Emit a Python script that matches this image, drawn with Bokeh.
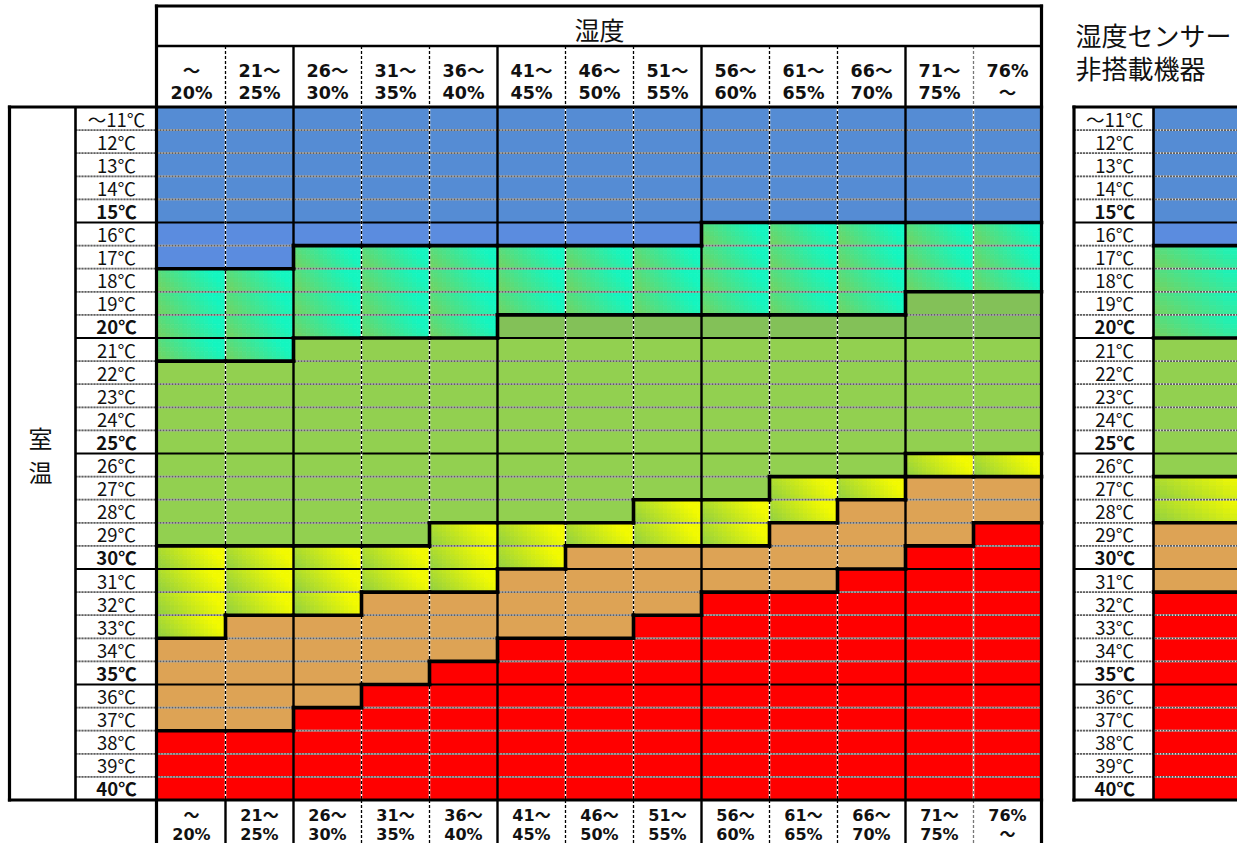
from bokeh.plotting import figure
from bokeh.models import Range1d
from bokeh.core.properties import value
from bokeh.embed import file_html
from bokeh.resources import INLINE

# ---------------- data ----------------
temps = [11, 12, 13, 14, 15, 16, 17, 18, 19, 20, 21, 22, 23, 24, 25,
         26, 27, 28, 29, 30, 31, 32, 33, 34, 35, 36, 37, 38, 39, 40]
temp_labels = ["～11℃", "12℃", "13℃", "14℃", "15℃", "16℃", "17℃", "18℃", "19℃", "20℃",
               "21℃", "22℃", "23℃", "24℃", "25℃", "26℃", "27℃", "28℃", "29℃", "30℃",
               "31℃", "32℃", "33℃", "34℃", "35℃", "36℃", "37℃", "38℃", "39℃", "40℃"]
bold_labels = ["15℃", "20℃", "25℃", "30℃", "35℃", "40℃"]
hum_line1 = ["～", "21～", "26～", "31～", "36～", "41～", "46～", "51～", "56～", "61～", "66～", "71～", "76%"]
hum_line2 = ["20%", "25%", "30%", "35%", "40%", "45%", "50%", "55%", "60%", "65%", "70%", "75%", "～"]

# last temperature of each band, per humidity column
blue_last   = [17, 17, 16, 16, 16, 16, 16, 16, 15, 15, 15, 15, 15]
cyan_last   = [21, 21, 20, 20, 20, 19, 19, 19, 19, 19, 19, 18, 18]
green_last  = [29, 29, 29, 29, 28, 28, 28, 27, 27, 26, 26, 25, 25]
yellow_last = [33, 32, 32, 31, 31, 30, 29, 29, 29, 28, 27, 26, 26]
orange_last = [37, 37, 36, 35, 34, 33, 33, 32, 31, 31, 30, 29, 28]
# devices without humidity sensor: blue, cyan, green, yellow, orange last temps
nosensor_last = [16, 20, 26, 28, 31]

title_hum = "湿度"
title_room = ["室", "温"]
title_nosensor = ["湿度センサー", "非搭載機器"]

# ---------------- styles / layout ----------------
BLUE, BLUE_L = "#558CD4", "#5B8CDF"
GREEN, GREEN_D = "#92D050", "#83C158"
ORANGE, RED = "#DDA355", "#FF0000"
CYAN_G = ((112, 212, 100), (20, 246, 192))
YEL_G = ((150, 210, 62), (242, 250, 0))

GRID_L, COL_W = 157.0, 68.0
GRID_T, ROW_H = 106.5, 23.1
NCOL, NROW = len(hum_line1), len(temps)
GRID_R = GRID_L + NCOL * COL_W
GRID_B = GRID_T + NROW * ROW_H
LAB_L = 75.0
BOX_L = 9.0
R_LAB_L, R_COL_L, R_COL_R = 1073.5, 1153.0, 1265.0
FIG_W, FIG_H = 1237, 843


def col_x(c):
    return GRID_L + c * COL_W


def row_y(r):
    return GRID_T + r * ROW_H


def band(t, lasts):
    for i, last in enumerate(lasts):
        if t <= last:
            return i
    return len(lasts)


def col_lasts(c):
    return [blue_last[c], cyan_last[c], green_last[c], yellow_last[c], orange_last[c]]


p = figure(width=FIG_W, height=FIG_H, x_range=Range1d(0, FIG_W), y_range=Range1d(FIG_H, 0),
           output_backend="svg", toolbar_location=None, x_axis_type=None, y_axis_type=None,
           min_border=0, outline_line_color=None, background_fill_color="white",
           border_fill_color="white")
p.xgrid.visible = False
p.ygrid.visible = False

solid = dict(left=[], right=[], top=[], bottom=[], color=[])
grad = dict(left=[], right=[], top=[], bottom=[], color=[])


def hexcol(rgb):
    return "#%02x%02x%02x" % tuple(int(round(v)) for v in rgb)


def add_cell(x0, x1, y0, y1, t, b):
    if b == 1 or b == 3:
        c0, c1 = CYAN_G if b == 1 else YEL_G
        nx, ny = 16, 5
        for i in range(nx):
            for j in range(ny):
                u = (i + 0.5) / nx
                v = 1 - (j + 0.5) / ny
                k = min(1.0, max(0.0, 1.0 * u + 0.35 * v - 0.08))
                rgb = [c0[m] + (c1[m] - c0[m]) * k for m in range(3)]
                grad["left"].append(x0 + (x1 - x0) * i / nx)
                grad["right"].append(x0 + (x1 - x0) * (i + 1) / nx)
                grad["top"].append(y0 + (y1 - y0) * j / ny)
                grad["bottom"].append(y0 + (y1 - y0) * (j + 1) / ny)
                grad["color"].append(hexcol(rgb))
        return
    if b == 0:
        col = BLUE_L if t >= 16 else BLUE
    elif b == 2:
        col = GREEN_D if t <= 20 else GREEN
    elif b == 4:
        col = ORANGE
    else:
        col = RED
    solid["left"].append(x0)
    solid["right"].append(x1)
    solid["top"].append(y0)
    solid["bottom"].append(y1)
    solid["color"].append(col)


bands = [[band(t, col_lasts(c)) for t in temps] for c in range(NCOL)]
for c in range(NCOL):
    for r, t in enumerate(temps):
        add_cell(col_x(c), col_x(c + 1), row_y(r), row_y(r + 1), t, bands[c][r])
ns_bands = [band(t, nosensor_last) for t in temps]
for r, t in enumerate(temps):
    add_cell(R_COL_L, R_COL_R, row_y(r), row_y(r + 1), t, ns_bands[r])

p.quad(left=solid["left"], right=solid["right"], top=solid["top"], bottom=solid["bottom"],
       fill_color=solid["color"], line_color=solid["color"], line_width=0.8)
p.quad(left=grad["left"], right=grad["right"], top=grad["top"], bottom=grad["bottom"],
       fill_color=grad["color"], line_color=grad["color"], line_width=0.8)

# ---------------- horizontal row lines ----------------
dash_h = dict(x0=[], y0=[], x1=[], y1=[])
solid_h = dict(x0=[], y0=[], x1=[], y1=[])
for r in range(1, NROW):
    y = row_y(r)
    target = solid_h if temp_labels[r - 1] in bold_labels else dash_h
    for (a, b) in ((LAB_L, GRID_R), (R_LAB_L, R_COL_R)):
        target["x0"].append(a); target["x1"].append(b)
        target["y0"].append(y); target["y1"].append(y)
p.segment(x0=dash_h["x0"], y0=dash_h["y0"], x1=dash_h["x1"], y1=dash_h["y1"],
          line_color="#d8d8d8", line_width=1.8)
p.segment(x0=dash_h["x0"], y0=dash_h["y0"], x1=dash_h["x1"], y1=dash_h["y1"],
          line_color="#5f5f5f", line_width=1.8, line_dash="2 1")
p.segment(x0=solid_h["x0"], y0=solid_h["y0"], x1=solid_h["x1"], y1=solid_h["y1"],
          line_color="black", line_width=2.2)

# ---------------- vertical column lines ----------------
HEAD_SPLIT = 45.5
FIG_BOTTOM = FIG_H
major_cols = [2, 5, 8, 11]
vs = dict(x0=[], y0=[], x1=[], y1=[])
vd = dict(x0=[], y0=[], x1=[], y1=[])
vg = dict(x0=[], y0=[], x1=[], y1=[])
for j in range(1, NCOL):
    x = col_x(j)
    tgt = vs if j in major_cols else (vg if j == NCOL - 1 else vd)
    tgt["x0"].append(x); tgt["x1"].append(x); tgt["y0"].append(HEAD_SPLIT); tgt["y1"].append(GRID_B)
    tgt = vs if (j in major_cols or j == 1) else (vg if j == NCOL - 1 else vd)
    tgt["x0"].append(x); tgt["x1"].append(x); tgt["y0"].append(GRID_B); tgt["y1"].append(FIG_BOTTOM)
for d, col in ((vd, "black"), (vg, "#777777")):
    p.segment(x0=d["x0"], y0=d["y0"], x1=d["x1"], y1=d["y1"], line_color="white", line_width=1.5)
    p.segment(x0=d["x0"], y0=d["y0"], x1=d["x1"], y1=d["y1"], line_color=col, line_width=1.3,
              line_dash="3 2")
p.segment(x0=vs["x0"], y0=vs["y0"], x1=vs["x1"], y1=vs["y1"], line_color="black", line_width=2.4)

# ---------------- category boundaries (thick) ----------------
tb = dict(x0=[], y0=[], x1=[], y1=[])
for c in range(NCOL):
    for r in range(NROW - 1):
        if bands[c][r] != bands[c][r + 1]:
            y = row_y(r + 1)
            tb["x0"].append(col_x(c)); tb["x1"].append(col_x(c + 1))
            tb["y0"].append(y); tb["y1"].append(y)
for c in range(NCOL - 1):
    for r in range(NROW):
        if bands[c][r] != bands[c + 1][r]:
            x = col_x(c + 1)
            tb["x0"].append(x); tb["x1"].append(x)
            tb["y0"].append(row_y(r)); tb["y1"].append(row_y(r + 1))
for r in range(NROW - 1):
    if ns_bands[r] != ns_bands[r + 1]:
        y = row_y(r + 1)
        tb["x0"].append(R_COL_L); tb["x1"].append(R_COL_R)
        tb["y0"].append(y); tb["y1"].append(y)
p.segment(x0=tb["x0"], y0=tb["y0"], x1=tb["x1"], y1=tb["y1"], line_color="black",
          line_width=3.6, line_cap="square")

# ---------------- frames ----------------
HEAD_T = 5.5
fr = dict(x0=[], y0=[], x1=[], y1=[])


def seg(a, b, c, d):
    fr["x0"].append(a); fr["y0"].append(b); fr["x1"].append(c); fr["y1"].append(d)


seg(GRID_L - 1, HEAD_T, GRID_R, HEAD_T)              # header top
seg(GRID_L - 1, HEAD_T, GRID_L - 1, FIG_BOTTOM)      # left of header / grid / bottom header
seg(GRID_R, HEAD_T, GRID_R, FIG_BOTTOM)              # right
seg(BOX_L, GRID_T, GRID_R, GRID_T)                   # grid top
seg(BOX_L, GRID_B, GRID_R, GRID_B)                   # grid bottom
seg(BOX_L, GRID_T, BOX_L, GRID_B)                    # room box left
seg(R_LAB_L, GRID_T, R_COL_R, GRID_T)                # right table top
seg(R_LAB_L, GRID_B, R_COL_R, GRID_B)                # right table bottom
seg(R_LAB_L, GRID_T, R_LAB_L, GRID_B)                # right table left
p.segment(x0=fr["x0"], y0=fr["y0"], x1=fr["x1"], y1=fr["y1"], line_color="black",
          line_width=3.2, line_cap="square")
p.segment(x0=[GRID_L - 1, LAB_L, R_COL_L], y0=[HEAD_SPLIT, GRID_T, GRID_T],
          x1=[GRID_R, LAB_L, R_COL_L], y1=[HEAD_SPLIT, GRID_B, GRID_B],
          line_color="black", line_width=2.6)

# ---------------- texts ----------------
NUM_FONT = value("DejaVu Sans, Noto Sans CJK JP")
JP_FONT = value("Noto Sans CJK JP")
hx = [col_x(c) + COL_W / 2 for c in range(NCOL)]
for ys, fs in (((70, 92), "17.5px"), ((815, 834), "16px")):
    p.text(x=hx, y=[ys[0]] * NCOL, text=hum_line1, text_align="center", text_baseline="middle",
           text_font=NUM_FONT, text_font_size=fs, text_font_style="bold", text_color="#111111")
    p.text(x=hx, y=[ys[1]] * NCOL, text=hum_line2, text_align="center", text_baseline="middle",
           text_font=NUM_FONT, text_font_size=fs, text_font_style="bold", text_color="#111111")

ly = [row_y(r) + ROW_H / 2 for r in range(NROW)]
norm_idx = [i for i, s in enumerate(temp_labels) if s not in bold_labels]
bold_idx = [i for i, s in enumerate(temp_labels) if s in bold_labels]
for lx in ((LAB_L + GRID_L) / 2, (R_LAB_L + R_COL_L) / 2 + 1):
    p.text(x=[lx] * len(norm_idx), y=[ly[i] for i in norm_idx], text=[temp_labels[i] for i in norm_idx],
           text_align="center", text_baseline="middle", text_font=JP_FONT,
           text_font_size="18.5px", text_color="#111111")
    p.text(x=[lx] * len(bold_idx), y=[ly[i] for i in bold_idx], text=[temp_labels[i] for i in bold_idx],
           text_align="center", text_baseline="middle", text_font=JP_FONT,
           text_font_size="18.5px", text_font_style="bold", text_color="#111111")

p.text(x=[(GRID_L + GRID_R) / 2], y=[28], text=[title_hum], text_align="center",
       text_baseline="middle", text_font=JP_FONT, text_font_size="25px", text_color="#111111")
p.text(x=[40, 40], y=[437, 471], text=title_room, text_align="center",
       text_baseline="middle", text_font=JP_FONT, text_font_size="24px", text_color="#111111")
p.text(x=[1075, 1075], y=[34, 67], text=title_nosensor, text_align="left",
       text_baseline="middle", text_font=JP_FONT, text_font_size="26px", text_color="#111111")

open("out.html", "w").write(file_html(p, INLINE))
